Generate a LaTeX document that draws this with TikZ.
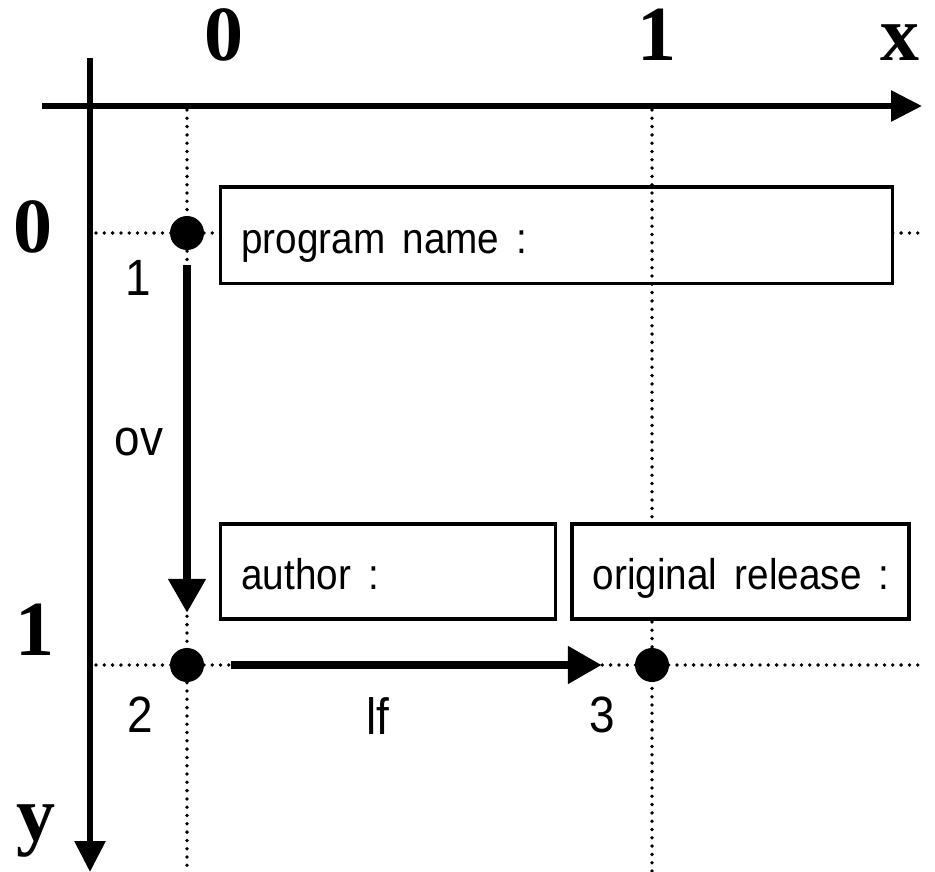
\documentclass[tikz,border=0pt]{standalone}
\usepackage{fontspec}
\usetikzlibrary{arrows.meta}
\newfontfamily\axisfont{Liberation Serif}
\newfontfamily\labfont[FakeStretch=0.9]{Liberation Sans}
\newfontfamily\fieldfont[FakeStretch=0.9,WordSpace=1.6]{Liberation Sans}
\begin{document}
\begin{tikzpicture}[x=1pt,y=-1pt,
  axis/.style={line width=6pt,-{Triangle[length=31pt,width=30pt]}},
  move/.style={line width=8pt,-{Triangle[length=34pt,width=36pt]}},
  guide/.style={line width=3.8pt,dash pattern=on 0pt off 8.3pt,line cap=round},
  pt/.style={circle,fill=black,minimum size=34pt,inner sep=0pt},
  field/.style={draw,line width=3.5pt,fill=white,anchor=north west,inner xsep=21pt,
    inner ysep=0pt,text height=40pt,text depth=3pt,
    font=\fieldfont\fontsize{43}{43}\selectfont},
  coord/.style={anchor=base,font=\axisfont\bfseries\fontsize{78}{78}\selectfont},
  tag/.style={anchor=base,font=\labfont\fontsize{51}{51}\selectfont}]
\useasboundingbox (0,0) rectangle (935,872);

% guide lines through the grid positions
\draw[guide] (96,233) -- (918,233);
\draw[guide] (96,665) -- (918,665);
\draw[guide] (187,110) -- (187,872);

% fields (content padded to the field width, left aligned)
\node[field,minimum height=96pt] (prog) at (218.5,185.5) {\makebox[630pt][l]{program name :}};
\node[field,minimum height=95pt] (auth) at (218.5,522) {\makebox[293pt][l]{author :}};
\node[field,minimum height=95pt] (orig) at (570,522) {\makebox[295pt][l]{original release :}};

\draw[guide] (652,110) -- (652,519);
\draw[guide] (652,622) -- (652,872);

% axes
\coordinate (xs) at (42,106);
\coordinate (xe) at (922,106);
\coordinate (ys) at (90,58);
\coordinate (ye) at (90,872);
\draw[axis] (xs) -- (xe);
\draw[axis] (ys) -- (ye);

\node[coord] (x0) at (224,61) {0};
\node[coord] (x1) at (657,61) {1};
\node[coord] (xl) at (900,61) {x};
\node[coord] (y0) at (33,252) {0};
\node[coord] (y1) at (35,655) {1};
\node[coord] (yl) at (36,840) {y};

% points
\node[pt] (d1) at (187,233) {};
\node[pt] (d2) at (187,665) {};
\node[pt] (d3) at (652,665) {};

\draw[move,shorten <=15pt,shorten >=35pt] (d1) -- (d2);
\draw[move,shorten <=27pt,shorten >=33pt] (d2) -- (d3);

\node[tag] (n1) at (138,295) {1};
\node[tag] (n2) at (140,732) {2};
\node[tag] (n3) at (602,732) {3};
\node[tag] (ov) at (139,455) {ov};
\node[tag] (lf) at (378,734) {lf};
\end{tikzpicture}
\end{document}
